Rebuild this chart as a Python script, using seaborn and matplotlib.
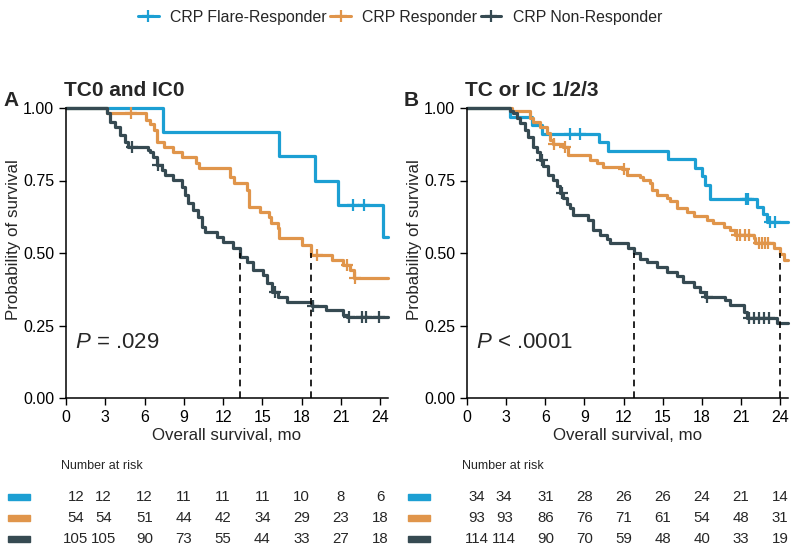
import numpy as np
import pandas as pd
import matplotlib
matplotlib.use("Agg")
import matplotlib.pyplot as plt
from matplotlib.lines import Line2D
from matplotlib.patches import Rectangle
from matplotlib import transforms
import seaborn as sns

# grupos e cores
groups = ["CRP Flare-Responder", "CRP Responder", "CRP Non-Responder"]
colors = ["#1c9fd3", "#e0954b", "#364a52"]

# Painel A - TC0 and IC0 (tempos em meses, sobrevida)
a_flare_t = [0, 7.4, 16.3, 19.0, 20.8, 24.2, 24.6]
a_flare_s = [1.0, 0.917, 0.833, 0.750, 0.667, 0.556, 0.556]
a_flare_c = [21.9, 22.8]

a_resp_t = [0, 3.16, 6.09, 6.4, 6.7, 6.95, 7.45, 8.2, 8.85, 9.95, 10.15, 12.55, 12.8, 13.8,
            14.0, 14.8, 15.5, 15.65, 16.2, 16.3, 18.0, 18.75, 20.3, 21.2, 21.7, 22.0, 24.6]
a_resp_s = [1.0, 0.982, 0.959, 0.944, 0.924, 0.884, 0.867, 0.849, 0.832, 0.810, 0.792, 0.763, 0.740, 0.717,
            0.660, 0.643, 0.625, 0.602, 0.585, 0.551, 0.528, 0.493, 0.476, 0.458, 0.441, 0.413, 0.413]
a_resp_c = [5.0, 19.2, 21.5, 22.1]

a_non_t = [0, 3.1, 3.36, 3.75, 4.13, 4.51, 4.76, 6.29, 6.42, 6.68, 6.93, 7.32, 7.57, 8.2, 8.84, 9.1,
           9.35, 9.74, 10.12, 10.37, 10.63, 11.52, 12.03, 12.79, 13.3, 13.81, 14.32, 15.08, 15.34,
           15.72, 16.23, 16.9, 18.78, 19.9, 21.2, 21.5, 24.6]
a_non_s = [1.0, 0.982, 0.953, 0.935, 0.907, 0.884, 0.867, 0.855, 0.849, 0.832, 0.803, 0.786, 0.769, 0.751,
           0.729, 0.700, 0.671, 0.648, 0.625, 0.591, 0.574, 0.556, 0.539, 0.516, 0.487, 0.470, 0.441,
           0.424, 0.395, 0.366, 0.349, 0.332, 0.318, 0.303, 0.286, 0.278, 0.278]
a_non_c = [5.02, 7.06, 15.98, 18.9, 21.6, 22.6, 22.9, 23.9]

a_medians = [13.3, 18.75]

# Painel B - TC or IC 1/2/3
b_flare_t = [0, 3.3, 4.96, 5.73, 10.12, 10.84, 15.44, 17.48, 18.0, 18.25, 18.63, 22.2, 22.7, 22.98, 24.6]
b_flare_s = [1.0, 0.968, 0.941, 0.912, 0.882, 0.853, 0.824, 0.794, 0.765, 0.735, 0.686, 0.657, 0.635,
             0.608, 0.608]
b_flare_c = [7.9, 8.67, 21.4, 21.55, 23.2, 23.6]

b_resp_t = [0, 3.43, 4.83, 5.09, 5.6, 6.11, 6.36, 6.62, 7.39, 7.77, 9.43, 9.94, 10.45, 11.86, 12.24,
            13.27, 13.52, 14.03, 14.16, 14.54, 15.31, 15.57, 16.08, 16.85, 17.36, 18.38, 18.89, 19.66,
            20.17, 20.55, 21.96, 22.1, 23.5, 24.0, 24.26, 24.6]
b_resp_s = [1.0, 0.989, 0.964, 0.951, 0.935, 0.913, 0.890, 0.876, 0.867, 0.838, 0.821, 0.810, 0.798,
            0.790, 0.769, 0.763, 0.752, 0.740, 0.718, 0.700, 0.689, 0.678, 0.655, 0.643, 0.626, 0.614,
            0.603, 0.591, 0.580, 0.562, 0.551, 0.533, 0.516, 0.498, 0.476, 0.476]
b_resp_c = [6.7, 7.5, 12.0, 20.68, 20.94, 21.32, 21.58, 22.35, 22.6, 22.85, 23.1]

b_non_t = [0, 3.3, 3.55, 3.81, 4.06, 4.45, 4.7, 5.09, 5.34, 5.6, 5.85, 6.24, 6.62, 6.88, 7.13, 7.39,
           7.64, 7.9, 8.15, 9.3, 9.69, 10.2, 10.71, 10.97, 12.37, 12.76, 13.27, 13.78, 14.54, 15.31,
           16.08, 16.59, 17.36, 17.87, 18.26, 19.79, 20.17, 21.19, 21.45, 23.75, 24.6]
b_non_s = [1.0, 0.989, 0.982, 0.967, 0.950, 0.924, 0.901, 0.867, 0.849, 0.820, 0.800, 0.769, 0.751,
           0.730, 0.706, 0.689, 0.670, 0.654, 0.631, 0.615, 0.579, 0.562, 0.550, 0.533, 0.516, 0.499,
           0.481, 0.470, 0.453, 0.436, 0.420, 0.401, 0.384, 0.367, 0.350, 0.338, 0.321, 0.298, 0.275,
           0.258, 0.258]
b_non_c = [5.73, 7.26, 18.38, 21.58, 21.97, 22.35, 22.73, 23.12]

b_medians = [12.76, 24.0]

# tabela de risco
risk_times = [0, 3, 6, 9, 12, 15, 18, 21, 24]
a_risk = [[12, 12, 12, 11, 11, 11, 10, 8, 6],
          [54, 54, 51, 44, 42, 34, 29, 23, 18],
          [105, 105, 90, 73, 55, 44, 33, 27, 18]]
b_risk = [[34, 34, 31, 28, 26, 26, 24, 21, 14],
          [93, 93, 86, 76, 71, 61, 54, 48, 31],
          [114, 114, 90, 70, 59, 48, 40, 33, 19]]

sns.set_theme(style="ticks")
plt.rcParams["font.family"] = ["Liberation Sans", "DejaVu Sans"]
plt.rcParams["mathtext.fontset"] = "custom"
plt.rcParams["mathtext.it"] = "Liberation Sans:italic"
plt.rcParams["mathtext.rm"] = "Liberation Sans"

fig = plt.figure(figsize=(8, 5.47), dpi=100)
W, H = 800, 547


def px_axes(x0, y0, x1, y1):
    return fig.add_axes([x0 / W, 1 - y1 / H, (x1 - x0) / W, (y1 - y0) / H])


def draw_panel(ax, curves, censors, medians, title, ptext, risk, xpx0, letter):
    for (t, s), cens, col in zip(curves, censors, colors):
        d = pd.DataFrame({"t": t, "s": s})
        sns.lineplot(data=d, x="t", y="s", drawstyle="steps-post", color=col, lw=2.3,
                     estimator=None, ax=ax)
        t_arr = np.array(t)
        cs = np.array(s)[np.searchsorted(t_arr, cens, side="right") - 1]
        ax.plot(cens, cs, ls="none", marker="+", ms=9, mew=1.6, color=col)
    for m in medians:
        ax.plot([m, m], [0, 0.5], ls=(0, (4, 3)), color="black", lw=1.2)
    for ln in ax.lines:
        ln.set_clip_on(False)
    ax.set_xlim(0, 24.6)
    ax.set_ylim(0, 1.0)
    ax.set_xticks(risk_times)
    ax.set_yticks([0, 0.25, 0.5, 0.75, 1.0])
    ax.set_yticklabels(["0.00", "0.25", "0.50", "0.75", "1.00"])
    ax.tick_params(labelsize=11.5, length=5, width=1, colors="black")
    ax.set_xlabel("Overall survival, mo", fontsize=12.2, labelpad=2)
    ax.set_ylabel("Probability of survival", fontsize=12.2)
    ax.yaxis.set_label_coords(-0.14, 0.545)
    ax.set_title(title, loc="left", fontsize=15, fontweight="bold", pad=9, x=-0.006)
    ax.text(0.7, 0.19, ptext, fontsize=16, va="center", ha="left")
    sns.despine(ax=ax)
    for sp in ["left", "bottom"]:
        ax.spines[sp].set_color("black")
        ax.spines[sp].set_linewidth(1.1)

    # letra do painel
    fig.text((xpx0 + 11) / W, 1 - 101 / H, letter, fontsize=15, fontweight="bold",
             ha="center", va="center")

    # tabela "Number at risk"
    tr = transforms.blended_transform_factory(ax.transData, fig.transFigure)
    ax.text(-0.35, 1 - 466 / H, "Number at risk", transform=tr, fontsize=9, ha="left", va="center")
    rows_y = [497, 518, 539]
    nudge = [0.75, -0.15, 0, 0, 0, 0, 0, 0, 0]
    for row, yy, col in zip(risk, rows_y, colors):
        fig.patches.append(Rectangle(((xpx0 + 8) / W, 1 - (yy + 3) / H), 22 / W, 6 / H,
                                     transform=fig.transFigure, color=col))
        for tt, nn, dx in zip(risk_times, row, nudge):
            ax.text(tt + dx, 1 - yy / H, str(nn), transform=tr, fontsize=10.8,
                    ha="center", va="center")


ax_a = px_axes(66, 108, 388, 398)
draw_panel(ax_a,
           [(a_flare_t, a_flare_s), (a_resp_t, a_resp_s), (a_non_t, a_non_s)],
           [a_flare_c, a_resp_c, a_non_c], a_medians, "TC0 and IC0", "$P$ = .029", a_risk, 0, "A")

ax_b = px_axes(467, 108, 788, 398)
draw_panel(ax_b,
           [(b_flare_t, b_flare_s), (b_resp_t, b_resp_s), (b_non_t, b_non_s)],
           [b_flare_c, b_resp_c, b_non_c], b_medians, "TC or IC 1/2/3", "$P$ < .0001", b_risk, 400, "B")

handles = [Line2D([], [], color=c, lw=2.2, marker="+", ms=9, mew=1.6) for c in colors]
fig.legend(handles, groups, loc="upper center", bbox_to_anchor=(0.5, 1.008), ncol=3,
           frameon=False, fontsize=11.4, handlelength=1.3, handletextpad=0.7, columnspacing=0.25)

fig.savefig("out.png", dpi=100)
